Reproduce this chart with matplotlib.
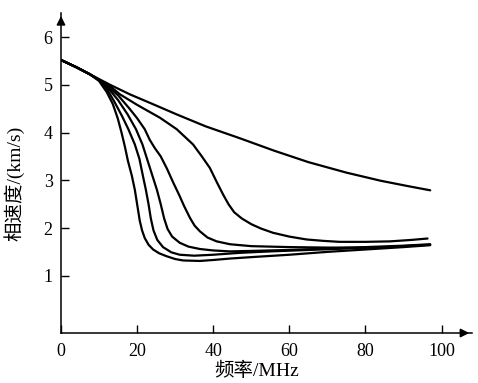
import matplotlib
matplotlib.use("Agg")
import matplotlib.pyplot as plt

plt.rcParams['font.family'] = ['Liberation Serif', 'Noto Sans CJK SC']

# phase velocity (km/s) vs frequency (MHz)
f1 = [0, 4, 7.6, 12.9, 18.1, 24, 30.4, 38, 47, 56, 65, 75, 84, 91, 97]
v1 = [5.52, 5.37, 5.22, 5.0, 4.8, 4.6, 4.38, 4.13, 3.88, 3.62, 3.38, 3.16, 2.99, 2.88, 2.79]

f2 = [0, 4, 7.6, 10, 12.9, 15.5, 20, 26, 30.4, 34.7, 37, 39.1, 41, 42.6, 44, 45.5, 47.5, 50,
      52.5, 55.7, 60, 64.5, 69, 73.2, 80, 86.4, 92, 96.3]
v2 = [5.52, 5.37, 5.22, 5.1, 4.97, 4.8, 4.58, 4.31, 4.07, 3.75, 3.5, 3.26, 2.95, 2.7, 2.5, 2.33, 2.2, 2.08,
      1.99, 1.9, 1.82, 1.76, 1.73, 1.71, 1.71, 1.72, 1.75, 1.78]

f3 = [0, 4, 7.6, 10, 12.5, 15, 18, 20, 22, 23.3, 24.6, 26.2, 27.8, 29.5, 31, 32.4, 33.9, 35.1,
      36.5, 38.5, 40.9, 44.4, 50, 60, 70, 80]
v3 = [5.52, 5.37, 5.22, 5.1, 4.95, 4.78, 4.5, 4.3, 4.07, 3.85, 3.68, 3.5, 3.25, 2.95, 2.7, 2.45, 2.21, 2.05,
      1.93, 1.8, 1.72, 1.66, 1.62, 1.6, 1.59, 1.59]

f4 = [0, 4, 7.6, 10, 12.5, 15, 17.5, 19.7, 21.4, 22.8, 24, 25.2, 26.2, 27.1, 28, 29.2, 31.2, 33.5,
      36.5, 40, 44.4, 50, 60, 70, 80, 90, 97]
v4 = [5.52, 5.37, 5.22, 5.1, 4.92, 4.68, 4.38, 4.07, 3.75, 3.4, 3.1, 2.8, 2.5, 2.2, 1.98, 1.82, 1.69, 1.61,
      1.56, 1.53, 1.51, 1.52, 1.54, 1.57, 1.6, 1.63, 1.66]

f5 = [0, 4, 7.6, 10, 12, 14, 16, 17.7, 19.4, 20.6, 21.5, 22.3, 23.0, 23.6, 24.3, 25.3, 26.8,
      29, 31.2, 35, 40, 47, 55, 65, 75, 85, 97]
v5 = [5.52, 5.37, 5.22, 5.1, 4.92, 4.65, 4.35, 4.07, 3.75, 3.45, 3.1, 2.8, 2.5, 2.2, 1.95, 1.75, 1.6,
      1.49, 1.44, 1.42, 1.44, 1.48, 1.51, 1.54, 1.57, 1.6, 1.65]

f6 = [0, 4, 7.6, 10, 12, 13.6, 14.9, 15.9, 16.8, 17.6, 18.6, 19.4, 20.1, 20.7, 21.3, 22, 23, 24.2,
      25.8, 27.7, 30, 32.1, 36.5, 40, 44.4, 50, 60, 70, 80, 90, 97]
v6 = [5.52, 5.37, 5.22, 5.08, 4.85, 4.6, 4.3, 4.0, 3.7, 3.4, 3.1, 2.8, 2.45, 2.15, 1.95, 1.79, 1.65, 1.55,
      1.47, 1.41, 1.35, 1.32, 1.31, 1.33, 1.36, 1.39, 1.44, 1.5, 1.55, 1.6, 1.64]

x_ticks = [0, 20, 40, 60, 80, 100]
y_ticks = [1, 2, 3, 4, 5, 6]

fig = plt.figure(figsize=(4.78, 3.83), dpi=100)
ax = fig.add_axes([0.1276, 0.1305, 0.86, 0.835])

for f, v in [(f1, v1), (f2, v2), (f3, v3), (f4, v4), (f5, v5), (f6, v6)]:
    ax.plot(f, v, color='black', lw=1.6, solid_joinstyle='round', solid_capstyle='round')

ax.set_xlim(0, 108)
ax.set_ylim(-0.2, 6.5)
ax.set_xticks(x_ticks)
ax.set_yticks(y_ticks)
ax.tick_params(direction='in', length=6, width=1, labelsize=13, colors='black')
ax.tick_params(axis='x', pad=7)
ax.tick_params(axis='y', pad=6)

for s in ['top', 'right']:
    ax.spines[s].set_visible(False)
for s in ['left', 'bottom']:
    ax.spines[s].set_linewidth(1.1)

# arrow heads on the axes
ax.annotate('', xy=(1.0, 0), xytext=(0.97, 0), xycoords='axes fraction',
            arrowprops=dict(arrowstyle='-|>', color='black', lw=1.1, mutation_scale=13))
ax.annotate('', xy=(0, 1.0), xytext=(0, 0.96), xycoords='axes fraction',
            arrowprops=dict(arrowstyle='-|>', color='black', lw=1.1, mutation_scale=13))

ax.set_xlabel('频率/MHz', fontsize=14)
ax.set_ylabel('相速度/(km/s)', fontsize=14)
ax.xaxis.set_label_coords(0.475, -0.09)
ax.yaxis.set_label_coords(-0.088, 0.469)

fig.savefig('out.png', dpi=100)
